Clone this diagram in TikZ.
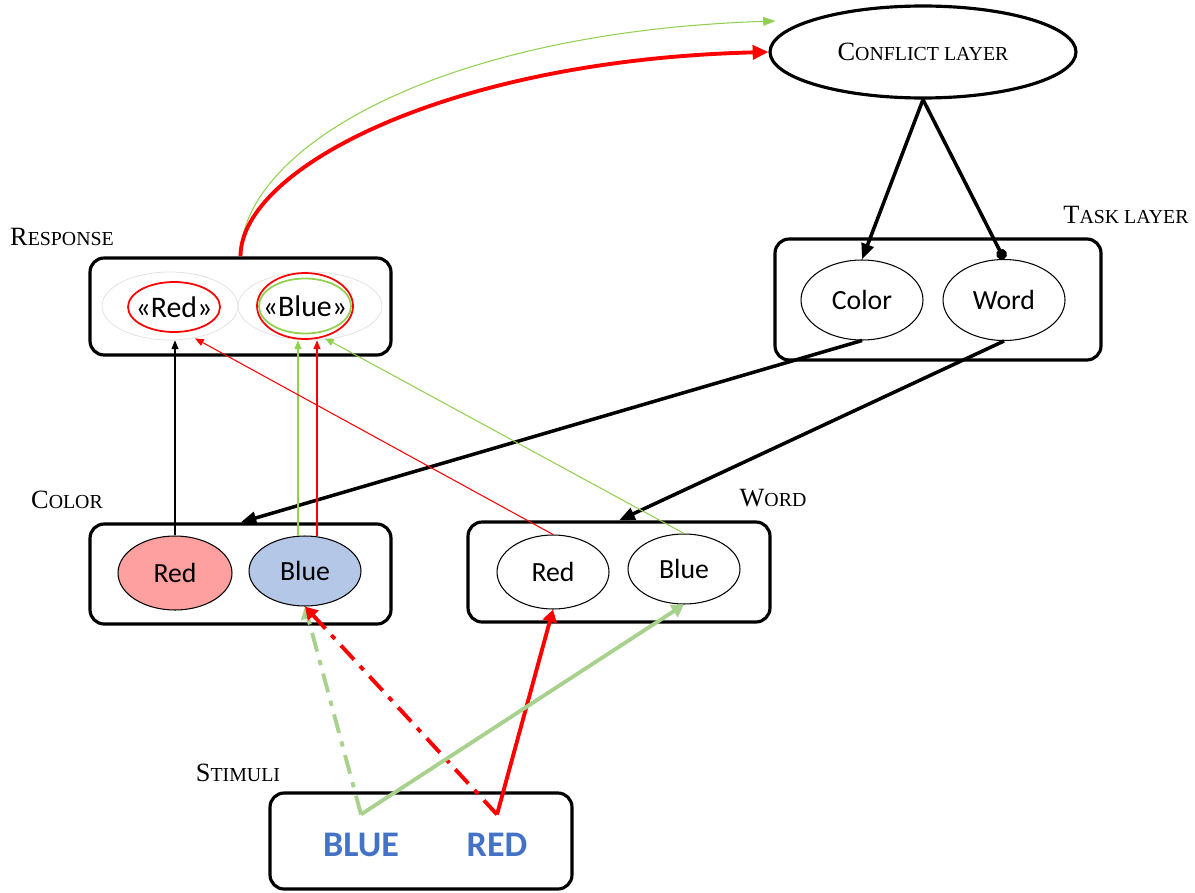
\documentclass[tikz,border=0pt]{standalone}
\usepackage{fontspec}
\newfontfamily\calib{Carlito}
\newfontfamily\lserif{Liberation Serif}
\usetikzlibrary{arrows.meta,calc,shapes.geometric}
\definecolor{myred}{RGB}{255,0,0}
\definecolor{lgreen}{RGB}{169,209,142}
\definecolor{tgreen}{RGB}{146,208,80}
\definecolor{pinkfill}{RGB}{255,160,160}
\definecolor{bluefill}{RGB}{180,199,231}
\definecolor{stimblue}{RGB}{68,114,196}
\newcommand{\mysc}[2]{{\lserif\fontsize{15}{15}\selectfont #1}{\lserif\fontsize{11.3}{11.3}\selectfont #2}}
\begin{document}
\begin{tikzpicture}[x=0.02cm, y=-0.02cm,
  layerbox/.style={draw, line width=1.8pt, rounded corners=8pt, inner sep=0pt},
  unit/.style={ellipse, draw, line width=0.6pt, inner sep=0pt, minimum width=2.24cm, minimum height=1.44cm, font=\calib\fontsize{15.8}{15.8}\selectfont},
  ring/.style={ellipse, line width=1pt, inner sep=0pt},
  resptext/.style={inner sep=0pt, font=\calib\fontsize{17}{17}\selectfont},
  layerlabel/.style={inner sep=0pt},
  bigarrow/.style={line width=2pt, -{Triangle[length=9pt,width=7pt]}},
  thinarrow/.style={line width=0.6pt, -{Triangle[length=5pt,width=4pt]}},
  stimarrow/.style={line width=2.2pt, -{Triangle[length=7pt,width=8pt]}},
  dashdotline/.style={dash pattern=on 11pt off 5pt on 3pt off 5pt},
  stim/.style={inner xsep=0pt, inner ysep=10.5pt, text=stimblue, font=\calib\bfseries\fontsize{20.5}{20.5}\selectfont}
]
\useasboundingbox (0,0) rectangle (1195,892);

% conflict layer
\node[ellipse, draw, line width=1.8pt, minimum width=6.12cm, minimum height=1.84cm, inner sep=0pt] (conflict) at (923,52) {\mysc{C}{ONFLICT LAYER}};

% task layer
\node[layerlabel] (tasklabel) at (1126,215) {\mysc{T}{ASK LAYER}};
\node[layerbox, minimum width=6.52cm, minimum height=2.42cm] (taskbox) at (938,299.5) {};
\node[unit, minimum width=2.44cm, minimum height=1.6cm] (tcolor) at (862,300) {Color};
\node[unit, minimum width=2.44cm, minimum height=1.62cm] (tword) at (1004,300) {Word};

% response
\node[layerlabel] (resplabel) at (62,237) {\mysc{R}{ESPONSE}};
\node[layerbox, minimum width=6.02cm, minimum height=1.94cm] (respbox) at (240.5,306.5) {};
\node[ellipse, draw=gray!25, line width=0.4pt, minimum width=2.72cm, minimum height=1.36cm, inner sep=0pt] (gl) at (170,306) {};
\node[ellipse, draw=gray!25, line width=0.4pt, minimum width=2.88cm, minimum height=1.36cm, inner sep=0pt] (gr) at (310,306) {};
\node[ring, draw=myred, minimum width=1.84cm, minimum height=1.0cm] (rred) at (174,307) {};
\node[ring, draw=myred, minimum width=1.92cm, minimum height=1.32cm] (rblue) at (305,306) {};
\node[ring, draw=tgreen, minimum width=1.84cm, minimum height=1.1cm] (rbluein) at (305,306) {};
\node[resptext] (rredtext) at (rred) {«Red»};
\node[resptext] (rbluetext) at (rblue) {«Blue»};

% color
\node[layerlabel] (colorlabel) at (67,500) {\mysc{C}{OLOR}};
\node[layerbox, minimum width=6.02cm, minimum height=2.0cm] (colorbox) at (240.5,574) {};
\node[unit, fill=pinkfill, minimum width=2.28cm, minimum height=1.48cm] (cred) at (175,573) {Red};
\node[unit, fill=bluefill, minimum width=2.24cm, minimum height=1.4cm] (cblue) at (305,571) {Blue};

% word
\node[layerlabel] (wordlabel) at (773,498) {\mysc{W}{ORD}};
\node[layerbox, minimum width=6.04cm, minimum height=2.0cm] (wordbox) at (619,572) {};
\node[unit, minimum width=2.24cm, minimum height=1.48cm] (wred) at (553,572) {Red};
\node[unit, minimum width=2.24cm, minimum height=1.4cm] (wblue) at (684,569) {Blue};

% stimuli
\node[layerlabel] (stimlabel) at (238,773) {\mysc{S}{TIMULI}};
\node[layerbox, minimum width=6.04cm, minimum height=1.92cm] (stimbox) at (421,841) {};
\node[stim] (sblue) at (361,845) {BLUE};
\node[stim] (sred) at (497,845) {RED};

% conflict -> task
\draw[bigarrow] (conflict.south) -- (tcolor.north);
\draw[line width=2pt, -{Circle[length=6pt]}] (conflict.south) -- (tword.north);

% task -> layers
\draw[bigarrow] (tcolor.south) -- (colorbox.north);
\draw[bigarrow] (tword.south) -- (wordbox.north);

% response -> conflict
\coordinate (gtip) at ($(conflict.west)+(7,-31)$);
\draw[tgreen, line width=0.6pt, -{Triangle[length=7pt,width=5pt]}] (respbox.north) .. controls +(0,-108) and +(-337,11) .. (gtip);
\draw[myred, line width=2.2pt, -{Triangle[length=9pt,width=8pt]}] (respbox.north) .. controls +(0,-88) and +(-320,8) .. (conflict.west);

% color/word -> response
\draw[thinarrow, black] (cred.north) -- (cred.north |- gl.south);
\coordinate (cg) at ($(cblue.north)+(-7,1)$);
\coordinate (cr) at ($(cblue.north)+(12,1)$);
\draw[thinarrow, tgreen] (cg) -- (cg |- gr.south);
\draw[thinarrow, myred] (cr) -- (cr |- gr.south);
\coordinate (glr) at ($(gl.south)+(25,-2)$);
\coordinate (grr) at ($(gr.south)+(15,-2)$);
\draw[thinarrow, myred] (wred.north) -- (glr);
\draw[thinarrow, tgreen] (wblue.north) -- (grr);

% stimuli -> color/word
\draw[stimarrow, lgreen, dashdotline] (sblue.north) -- (cblue.south);
\draw[stimarrow, myred, dashdotline] (sred.north) -- (cblue.south);
\draw[stimarrow, myred] (sred.north) -- (wred.south);
\draw[stimarrow, lgreen] (sblue.north) -- (wblue.south);
\end{tikzpicture}
\end{document}
